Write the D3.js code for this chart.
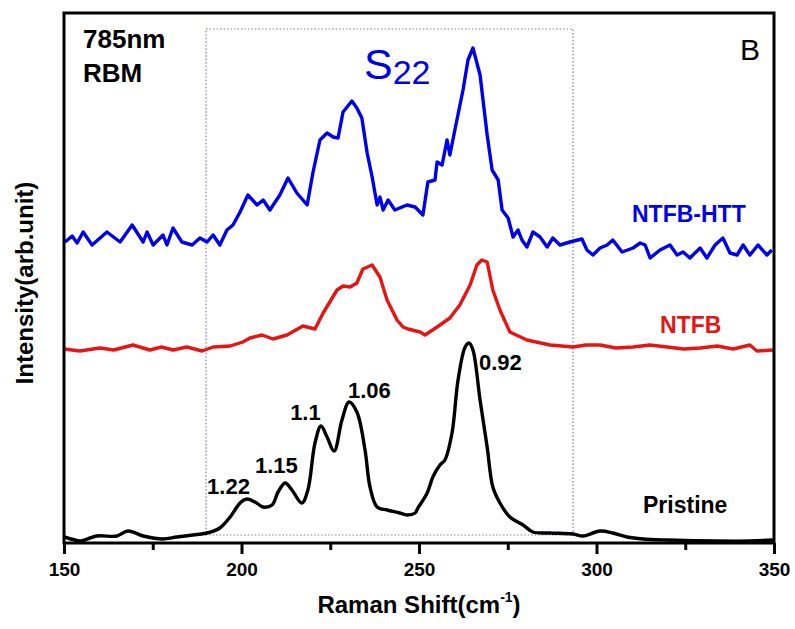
<!DOCTYPE html>
<html>
<head>
<meta charset="utf-8">
<script src="https://cdn.jsdelivr.net/npm/d3@7"></script>
<style>
  body { margin: 0; background: #fff; }
  text { font-family: "Liberation Sans", Arial, sans-serif; }
</style>
</head>
<body>
<svg id="chart" width="795" height="629"></svg>
<script>
// Raman shift (cm-1) and intensity (arb. unit, curves already offset)
var pristineX = [150, 153.1, 154.5, 159.3, 164.9, 168.0, 172.3, 175.1, 177.9, 181.8, 186.3, 190.3, 193.9, 196.8, 199.6, 201.5, 203.8, 206.1, 208.6, 210.3, 212.3, 214.2, 217.0, 218.7, 220.7, 222.4, 224.1, 226.1, 228.3, 230.3, 232.5, 234.8, 236.2, 238.2, 241.0, 244.6, 246.6, 248.9, 249.7, 252.3, 253.9, 255.9, 257.3, 259.3, 261.0, 263.0, 264.1, 265.2, 267.2, 269.2, 270.8, 272.8, 275.6, 279.3, 282.1, 286.9, 293.4, 296.2, 301.0, 304.6, 308.6, 313.1, 319.9, 333.9, 343.2, 349.7];
var pristineY = [6, 3, 2, 7, 7, 12, 7, 5, 4, 6, 8, 10, 15, 26, 40, 44, 41, 36, 38, 51, 60, 53, 40, 53, 100, 117, 106, 92, 123, 141, 131, 93, 56, 36, 33, 30, 28, 30, 35, 50, 66, 78, 83, 110, 163, 196, 200, 193, 143, 96, 56, 40, 26, 18, 11, 10, 9, 7, 12, 10, 6, 4, 3, 2, 2, 3];

var ntfbX = [150, 154.5, 160.1, 164.0, 169.4, 174.2, 177.5, 180.7, 184.6, 188.9, 192.0, 196.8, 200.4, 202.4, 205.8, 208.9, 212.8, 217.3, 220.7, 223.0, 226.9, 228.6, 230.6, 232.5, 234.2, 236.8, 239.0, 241.0, 243.8, 245.5, 246.9, 250.3, 251.7, 255.1, 258.7, 261.5, 264.4, 266.3, 267.7, 269.2, 270.8, 272.8, 275.6, 280.4, 286.9, 293.4, 297.0, 301.0, 305.5, 310.3, 315.0, 319.9, 324.5, 329.2, 334.0, 338.5, 343.2, 345.2, 349.7];
var ntfbY = [194, 192, 195, 193, 198, 193, 196, 193, 196, 192, 196, 197, 201, 205, 208, 204, 208, 217, 214, 230, 253, 257, 256, 260, 274, 278, 266, 243, 223, 216, 214, 211, 208, 216, 225, 238, 258, 278, 283, 281, 253, 233, 211, 203, 198, 196, 198, 198, 195, 196, 198, 196, 194, 195, 197, 194, 198, 192, 193];

var httX = [150.3, 152.3, 153.7, 155.4, 157.9, 162.1, 165.8, 169.2, 172.3, 173.4, 175.1, 177.9, 179.0, 180.7, 183.2, 186.1, 188.3, 190.3, 192.0, 193.9, 195.9, 197.6, 199.6, 201.8, 204.4, 206.1, 208.0, 210.8, 213.1, 215.6, 218.5, 220.1, 222.1, 224.1, 225.8, 227.2, 228.6, 231.1, 232.5, 233.9, 235.4, 236.8, 238.2, 239.0, 239.9, 241.3, 243.2, 246.6, 248.9, 251.1, 252.5, 254.5, 255.1, 256.5, 257.9, 258.7, 260.1, 262.4, 263.8, 265.2, 267.2, 269.2, 270.6, 272.3, 273.4, 275.1, 276.5, 277.9, 279.0, 280.4, 282.1, 284.1, 286.1, 287.7, 289.7, 292.5, 295.9, 297.3, 299.0, 301.0, 303.0, 304.6, 307.2, 310.3, 312.3, 313.7, 315.1, 317.9, 320.7, 322.7, 324.4, 326.3, 329.2, 331.1, 333.4, 335.6, 337.6, 339.6, 341.3, 343.2, 345.5, 348.0, 349.4];
var httY = [301, 307, 300, 311, 298, 311, 301, 318, 301, 311, 298, 308, 298, 315, 301, 298, 305, 301, 308, 298, 313, 318, 331, 348, 338, 343, 333, 348, 365, 350, 338, 370, 403, 410, 406, 405, 431, 442, 435, 425, 390, 366, 338, 346, 333, 343, 333, 338, 336, 328, 361, 363, 381, 378, 403, 388, 413, 453, 483, 495, 468, 408, 373, 363, 333, 325, 306, 313, 303, 296, 311, 306, 296, 305, 298, 301, 304, 293, 288, 295, 298, 303, 291, 295, 300, 298, 285, 293, 298, 288, 291, 285, 295, 285, 298, 305, 290, 288, 298, 288, 298, 288, 293];

var xTicks = [150, 200, 250, 300, 350];
var xMinor = [175, 225, 275, 325];

// peak labels (chirality diameters) for the pristine curve
var peakLabels = ["1.22", "1.15", "1.1", "1.06", "0.92"];
var peakX = [190.3, 203.8, 213.7, 230.0, 266.9];
var peakY = [49, 70, 123, 145, 173];

var seriesNames = ["NTFB-HTT", "NTFB", "Pristine"];
var seriesLabelX = [310.0, 317.9, 313.1];
var seriesLabelY = [321, 210, 30];

// S22 window
var boxX = [190, 293.4];
var boxY = [8, 514];

var margin = { top: 13, right: 21, bottom: 86, left: 64 };
var width = 795 - margin.left - margin.right;
var height = 629 - margin.top - margin.bottom;

var svg = d3.select("#chart");
var g = svg.append("g")
    .attr("transform", "translate(" + margin.left + "," + margin.top + ")");

var x = d3.scaleLinear().domain([150, 350]).range([0, width]);
var y = d3.scaleLinear().domain([0, 530]).range([height, 0]);

var colours = ["#0000f0", "#e81414", "#000000"];

// dotted box
g.append("rect")
    .attr("x", x(boxX[0]))
    .attr("y", y(boxY[1]))
    .attr("width", x(boxX[1]) - x(boxX[0]))
    .attr("height", y(boxY[0]) - y(boxY[1]))
    .attr("fill", "none")
    .attr("stroke", "#7d80b4")
    .attr("stroke-width", 1.2)
    .attr("stroke-dasharray", "1.5,2");

function makeLine(xs, ys, curve) {
    var pts = xs.map(function (d, i) { return [d, ys[i]]; });
    return d3.line()
        .x(function (d) { return x(d[0]); })
        .y(function (d) { return y(d[1]); })
        .curve(curve)(pts);
}

var curves = [
    { xs: httX, ys: httY, c: d3.curveLinear },
    { xs: ntfbX, ys: ntfbY, c: d3.curveLinear },
    { xs: pristineX, ys: pristineY, c: d3.curveCatmullRom }
];

g.selectAll("path.spec")
    .data(curves)
    .enter()
    .append("path")
    .attr("class", "spec")
    .attr("d", function (d) { return makeLine(d.xs, d.ys, d.c); })
    .attr("fill", "none")
    .attr("stroke", function (d, i) { return colours[i]; })
    .attr("stroke-width", 3.4)
    .attr("stroke-linejoin", "round");

// frame
g.append("rect")
    .attr("x", 0).attr("y", 0)
    .attr("width", width).attr("height", height)
    .attr("fill", "none")
    .attr("stroke", "#000")
    .attr("stroke-width", 3);

// x axis
var xAxis = g.append("g")
    .attr("transform", "translate(0," + height + ")")
    .call(d3.axisBottom(x).tickValues(xTicks).tickSize(11).tickPadding(9));
xAxis.select(".domain").remove();
xAxis.selectAll("line").attr("stroke-width", 3);
xAxis.selectAll("text")
    .attr("font-size", "19px")
    .attr("font-weight", "bold")
    .attr("font-family", "'Liberation Sans', Arial, sans-serif");

var xAxisMinor = g.append("g")
    .attr("transform", "translate(0," + height + ")")
    .call(d3.axisBottom(x).tickValues(xMinor).tickSize(7).tickFormat(""));
xAxisMinor.select(".domain").remove();
xAxisMinor.selectAll("line").attr("stroke-width", 3);

// axis titles
var xt = svg.append("text")
    .attr("x", margin.left + width / 2)
    .attr("y", 613)
    .attr("text-anchor", "middle")
    .attr("font-size", "24px")
    .attr("font-weight", "bold")
    .text("Raman Shift(cm");
xt.append("tspan").attr("font-size", "14px").attr("dy", -11).text("-1");
xt.append("tspan").attr("dy", 11).text(")");

svg.append("text")
    .attr("transform", "translate(33," + 283 + ") rotate(-90)")
    .attr("text-anchor", "middle")
    .attr("font-size", "24px")
    .attr("font-weight", "bold")
    .text("Intensity(arb.unit)");

// corner labels
g.append("text").attr("x", 19).attr("y", 35)
    .attr("font-size", "26px").attr("font-weight", "bold").text("785nm");
g.append("text").attr("x", 19).attr("y", 69)
    .attr("font-size", "26px").attr("font-weight", "bold").text("RBM");
g.append("text").attr("x", 676).attr("y", 47)
    .attr("font-size", "30px").text("B");

var s22 = g.append("text").attr("x", 300).attr("y", 66)
    .attr("font-size", "43px").attr("fill", colours[0]).text("S");
s22.append("tspan").attr("font-size", "34px").attr("dy", 5).text("22");

// peak labels
g.selectAll("text.peak")
    .data(peakLabels)
    .enter()
    .append("text")
    .attr("class", "peak")
    .attr("x", function (d, i) { return x(peakX[i]); })
    .attr("y", function (d, i) { return y(peakY[i]); })
    .attr("font-size", "22px")
    .attr("font-weight", "bold")
    .text(function (d) { return d; });

// series labels
g.selectAll("text.series")
    .data(seriesNames)
    .enter()
    .append("text")
    .attr("class", "series")
    .attr("x", function (d, i) { return x(seriesLabelX[i]); })
    .attr("y", function (d, i) { return y(seriesLabelY[i]); })
    .attr("font-size", "23px")
    .attr("font-weight", "bold")
    .attr("fill", function (d, i) { return colours[i]; })
    .text(function (d) { return d; });
</script>
</body>
</html>
